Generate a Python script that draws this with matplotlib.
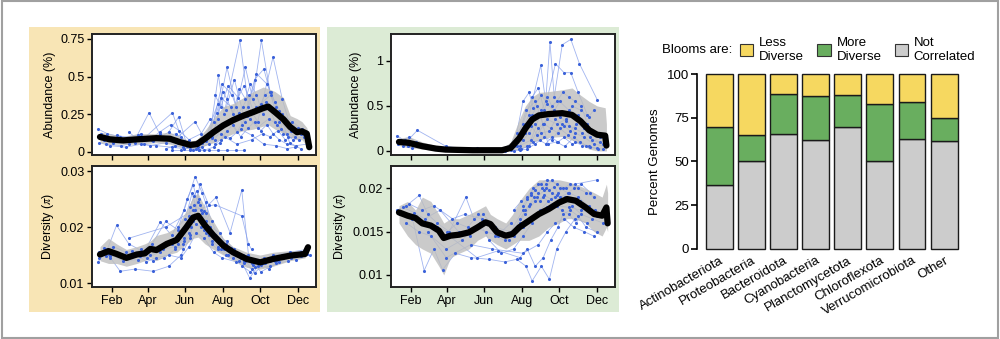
import matplotlib
matplotlib.use("Agg")
import matplotlib.pyplot as plt
from matplotlib.patches import Rectangle, Patch

plt.rcParams['font.family'] = ['Liberation Sans', 'DejaVu Sans']
plt.rcParams['font.size'] = 9
plt.rcParams['mathtext.fontset'] = 'stix'

month_ticks = [32, 91, 152, 213, 274, 335]
month_labels = ['Feb', 'Apr', 'Jun', 'Aug', 'Oct', 'Dec']

# ---- less-diverse blooms example (yellow panel) : abundance ----
ab1_traces = [
    [(10, 0.15), (25, 0.12), (45, 0.10), (70, 0.08), (93, 0.26), (110, 0.12), (140, 0.06), (170, 0.02), (200, 0.15),
     (220, 0.56), (235, 0.30), (250, 0.56), (262, 0.35), (276, 0.74), (290, 0.40), (305, 0.20), (330, 0.10)],
    [(15, 0.12), (35, 0.06), (60, 0.05), (85, 0.09), (131, 0.26), (145, 0.10), (165, 0.01), (190, 0.05), (206, 0.51),
     (215, 0.25), (241, 0.74), (255, 0.30), (270, 0.20), (295, 0.63), (310, 0.35), (325, 0.14)],
    [(20, 0.08), (40, 0.09), (75, 0.11), (100, 0.07), (125, 0.13), (141, 0.23), (155, 0.04), (175, 0.01), (198, 0.20),
     (212, 0.45), (228, 0.38), (245, 0.18), (265, 0.48), (280, 0.55), (300, 0.25), (320, 0.18), (345, 0.12)],
    [(12, 0.06), (30, 0.04), (55, 0.03), (80, 0.05), (105, 0.04), (130, 0.03), (150, 0.02), (180, 0.03), (205, 0.32),
     (218, 0.28), (232, 0.48), (250, 0.20), (268, 0.52), (285, 0.45), (298, 0.33), (315, 0.22), (335, 0.16)],
    [(130, 0.01), (145, 0.01), (160, 0.01), (175, 0.01), (190, 0.01), (205, 0.01), (220, 0.01), (235, 0.01), (247, 0.01)],
    [(18, 0.10), (50, 0.07), (90, 0.10), (115, 0.09), (135, 0.08), (168, 0.20), (185, 0.07), (200, 0.08), (215, 0.18),
     (240, 0.26), (258, 0.22), (275, 0.32), (292, 0.38), (305, 0.27), (322, 0.06), (340, 0.02)],
    [(22, 0.05), (48, 0.04), (70, 0.06), (95, 0.04), (120, 0.06), (150, 0.05), (172, 0.03), (195, 0.09), (210, 0.12),
     (225, 0.09), (242, 0.15), (260, 0.11), (280, 0.05), (300, 0.04), (318, 0.02), (330, 0.03)],
    [(200, 0.38), (210, 0.30), (222, 0.44), (238, 0.36), (248, 0.44), (262, 0.28), (273, 0.30), (282, 0.38), (292, 0.40),
     (300, 0.30), (312, 0.12), (328, 0.08), (345, 0.10)],
    [(60, 0.13), (85, 0.05), (110, 0.13), (128, 0.18), (142, 0.14), (158, 0.08), (178, 0.12), (193, 0.22), (207, 0.17),
     (224, 0.21), (236, 0.13), (252, 0.24), (270, 0.16), (288, 0.22), (302, 0.18), (318, 0.12)],
    [(195, 0.10), (205, 0.22), (213, 0.40), (220, 0.35), (230, 0.25), (240, 0.42), (250, 0.35), (258, 0.45), (268, 0.38),
     (278, 0.25), (288, 0.30), (298, 0.20), (308, 0.15), (320, 0.10), (338, 0.08)],
    [(200, 0.05), (210, 0.08), (220, 0.14), (230, 0.18), (242, 0.10), (255, 0.16), (265, 0.20), (275, 0.14), (285, 0.18),
     (295, 0.12), (305, 0.08), (318, 0.05), (332, 0.04), (350, 0.05)],
    [(25, 0.09), (40, 0.11), (62, 0.09), (80, 0.12), (98, 0.08), (118, 0.10), (137, 0.12), (150, 0.07), (162, 0.05),
     (180, 0.06), (192, 0.12), (203, 0.26), (210, 0.36), (226, 0.30), (233, 0.22), (246, 0.30), (256, 0.38), (268, 0.30),
     (283, 0.33), (296, 0.27), (310, 0.25), (326, 0.20), (342, 0.15)],
    [(120, 0.02), (135, 0.04), (148, 0.03), (160, 0.02), (183, 0.01), (198, 0.03), (208, 0.06), (216, 0.10), (236, 0.05),
     (260, 0.08), (278, 0.12), (290, 0.10), (303, 0.14), (315, 0.08), (340, 0.12)],
]
ab1_days = [13, 29, 51, 73, 105, 127, 143, 160, 171, 184, 198, 214, 230, 247, 263, 279, 287, 298, 312, 323, 334, 342, 350, 354]
ab1_mean = [0.098, 0.082, 0.075, 0.082, 0.09, 0.086, 0.064, 0.045, 0.05, 0.086, 0.13, 0.175, 0.21, 0.24, 0.264, 0.29,
            0.30, 0.264, 0.215, 0.164, 0.13, 0.135, 0.12, 0.03]
ab1_hi = [0.13, 0.12, 0.10, 0.12, 0.12, 0.13, 0.10, 0.07, 0.08, 0.14, 0.22, 0.30, 0.32, 0.36, 0.40, 0.43, 0.42, 0.40,
          0.36, 0.24, 0.22, 0.20, 0.16, 0.08]
ab1_lo = [0.06, 0.05, 0.05, 0.05, 0.06, 0.05, 0.03, 0.02, 0.02, 0.04, 0.06, 0.09, 0.12, 0.14, 0.15, 0.17, 0.18, 0.15,
          0.12, 0.10, 0.08, 0.08, 0.04, 0.01]

# ---- yellow panel : diversity ----
dv1_traces = [
    [(10, 0.0138), (25, 0.0160), (40, 0.0203), (60, 0.0170), (85, 0.0155), (111, 0.0209), (130, 0.0185), (150, 0.0230),
     (168, 0.0290), (180, 0.0260), (195, 0.0210), (215, 0.0160), (240, 0.0140), (260, 0.0125), (290, 0.0130),
     (320, 0.0140), (345, 0.0150)],
    [(15, 0.0150), (30, 0.0145), (46, 0.0121), (70, 0.0125), (100, 0.0121), (125, 0.0130), (145, 0.0150), (160, 0.0180),
     (176, 0.0277), (190, 0.0240), (202, 0.0253), (225, 0.0190), (244, 0.0266), (255, 0.0150), (275, 0.0120),
     (300, 0.0135), (330, 0.0148)],
    [(20, 0.0162), (38, 0.0155), (58, 0.0148), (80, 0.0160), (98, 0.0170), (120, 0.0210), (140, 0.0195), (155, 0.0250),
     (165, 0.0275), (172, 0.0245), (185, 0.0225), (200, 0.0180), (220, 0.0175), (238, 0.0150), (257, 0.0109),
     (270, 0.0130), (295, 0.0150), (322, 0.0155), (350, 0.0160)],
    [(12, 0.0145), (28, 0.0152), (50, 0.0140), (75, 0.0142), (95, 0.0150), (115, 0.0160), (135, 0.0165), (150, 0.0180),
     (162, 0.0200), (170, 0.0220), (182, 0.0195), (196, 0.0175), (210, 0.0160), (228, 0.0155), (250, 0.0140),
     (265, 0.0118), (285, 0.0140), (310, 0.0150), (340, 0.0155)],
    [(18, 0.0158), (35, 0.0165), (55, 0.0155), (90, 0.0145), (110, 0.0155), (130, 0.0170), (148, 0.0160), (158, 0.0220),
     (167, 0.0240), (178, 0.0230), (190, 0.0185), (205, 0.0165), (222, 0.0150), (242, 0.0145), (262, 0.0132),
     (280, 0.0145), (305, 0.0138), (335, 0.0152)],
    [(140, 0.0200), (152, 0.0215), (163, 0.0260), (175, 0.0215), (186, 0.0245), (193, 0.0200), (208, 0.0190),
     (218, 0.0170), (232, 0.0160), (248, 0.0135), (268, 0.0140), (288, 0.0125), (312, 0.0145), (332, 0.0142),
     (355, 0.0150)],
    [(22, 0.0148), (45, 0.0150), (65, 0.0158), (88, 0.0138), (105, 0.0145), (125, 0.0150), (145, 0.0145), (158, 0.0165),
     (170, 0.0190), (183, 0.0180), (198, 0.0155), (212, 0.0145), (235, 0.0138), (252, 0.0148), (278, 0.0135),
     (298, 0.0140), (325, 0.0145)],
    [(60, 0.0180), (120, 0.0200), (165, 0.0230), (200, 0.0240), (244, 0.0220), (255, 0.0170), (260, 0.0160)],
    [(150, 0.0195), (156, 0.0210), (160, 0.0235), (166, 0.0255), (171, 0.0265), (176, 0.0240), (180, 0.0225),
     (186, 0.0210), (192, 0.0195), (200, 0.0185), (210, 0.0170), (222, 0.0165), (235, 0.0150), (248, 0.0140),
     (260, 0.0135), (275, 0.0132), (290, 0.0140), (310, 0.0145), (330, 0.0150), (350, 0.0152)],
    [(140, 0.0170), (150, 0.0175), (158, 0.0190), (165, 0.0210), (170, 0.0205), (177, 0.0200), (185, 0.0190),
     (195, 0.0170), (205, 0.0160), (218, 0.0150), (230, 0.0145), (245, 0.0130), (258, 0.0120), (266, 0.0128),
     (280, 0.0138), (300, 0.0145), (320, 0.0150), (340, 0.0148)],
    [(12, 0.0155), (30, 0.0148), (52, 0.0150), (78, 0.0148), (100, 0.0140), (118, 0.0145), (135, 0.0160), (148, 0.0170),
     (160, 0.0185), (168, 0.0230), (174, 0.0250), (182, 0.0228), (190, 0.0200), (206, 0.0175), (226, 0.0162),
     (246, 0.0150), (262, 0.0142), (282, 0.0135), (302, 0.0142), (328, 0.0150)],
]
dv1_days = [13, 27, 40, 56, 73, 86, 95, 105, 122, 138, 154, 165, 173, 184, 198, 214, 230, 252, 274, 295, 323, 347, 352]
dv1_mean = [0.0151, 0.0157, 0.0152, 0.0145, 0.0151, 0.0153, 0.0161, 0.0159, 0.0170, 0.0177, 0.0200, 0.0217, 0.0220,
            0.0203, 0.0185, 0.0167, 0.0155, 0.0143, 0.0137, 0.0143, 0.0149, 0.0152, 0.0164]
dv1_hi = [0.0165, 0.0180, 0.0170, 0.0160, 0.0165, 0.0170, 0.0175, 0.0185, 0.0190, 0.0200, 0.0230, 0.0255, 0.0260,
          0.0235, 0.0210, 0.0180, 0.0165, 0.0155, 0.0150, 0.0155, 0.0158, 0.0157, 0.0168]
dv1_lo = [0.0140, 0.0135, 0.0135, 0.0130, 0.0135, 0.0140, 0.0145, 0.0140, 0.0150, 0.0155, 0.0170, 0.0180, 0.0182,
          0.0170, 0.0160, 0.0150, 0.0140, 0.0128, 0.0125, 0.0130, 0.0140, 0.0145, 0.0155]

# ---- more-diverse blooms example (green panel) : abundance ----
ab2_traces = [
    [(10, 0.17), (25, 0.10), (43, 0.23), (90, 0.05), (120, 0.02), (160, 0.01), (200, 0.05), (225, 0.40), (244, 0.95),
     (252, 0.55), (259, 1.21), (266, 0.60), (279, 1.18), (293, 1.24), (307, 0.97), (336, 0.57)],
    [(15, 0.12), (30, 0.15), (45, 0.08), (60, 0.03), (75, 0.02), (105, 0.01), (150, 0.01), (190, 0.02), (215, 0.30),
     (230, 0.60), (240, 0.70), (250, 0.45), (268, 0.97), (282, 0.87), (293, 0.87), (305, 0.65), (320, 0.40)],
    [(12, 0.08), (28, 0.06), (50, 0.04), (70, 0.02), (100, 0.01), (130, 0.01), (175, 0.01), (205, 0.10), (220, 0.45),
     (235, 0.55), (248, 0.30), (262, 0.40), (275, 0.55), (290, 0.45), (305, 0.40), (318, 0.30), (340, 0.15)],
    [(20, 0.05), (35, 0.03), (55, 0.06), (85, 0.01), (140, 0.00), (185, 0.00), (208, 0.02), (225, 0.05), (240, 0.25),
     (255, 0.35), (270, 0.30), (285, 0.35), (300, 0.20), (315, 0.15), (330, 0.08), (348, 0.05)],
    [(200, 0.00), (210, 0.01), (222, 0.02), (235, 0.08), (250, 0.15), (262, 0.12), (275, 0.25), (288, 0.18),
     (300, 0.10), (312, 0.06), (325, 0.04), (345, 0.02)],
    [(205, 0.20), (215, 0.55), (225, 0.65), (232, 0.48), (245, 0.62), (255, 0.52), (265, 0.45), (275, 0.38),
     (285, 0.33), (295, 0.50), (310, 0.45), (322, 0.38), (330, 0.45)],
    [(210, 0.05), (218, 0.20), (228, 0.28), (238, 0.18), (250, 0.30), (260, 0.25), (272, 0.20), (282, 0.28),
     (292, 0.22), (302, 0.30), (315, 0.25), (328, 0.12), (345, 0.08)],
    [(22, 0.12), (40, 0.10), (65, 0.05), (140, 0.03), (195, 0.01), (228, 0.12), (243, 0.40), (256, 0.08), (270, 0.10),
     (283, 0.05), (298, 0.15), (318, 0.05), (335, 0.03)],
    [(210, 0.15), (220, 0.30), (230, 0.40), (238, 0.50), (245, 0.45), (255, 0.60), (262, 0.50), (270, 0.55),
     (280, 0.65), (290, 0.60), (300, 0.55), (310, 0.50), (320, 0.30), (332, 0.20)],
    [(205, 0.05), (215, 0.12), (225, 0.20), (235, 0.30), (245, 0.20), (258, 0.22), (268, 0.35), (278, 0.30),
     (290, 0.28), (300, 0.25), (312, 0.20), (325, 0.15), (340, 0.10)],
    [(212, 0.02), (222, 0.05), (232, 0.10), (242, 0.12), (252, 0.08), (262, 0.15), (272, 0.10), (282, 0.15),
     (295, 0.08), (308, 0.10), (322, 0.05), (338, 0.02)],
]
ab2_days = [13, 29, 51, 73, 89, 133, 181, 195, 209, 219, 230, 241, 257, 279, 295, 309, 323, 336, 349, 351]
ab2_mean = [0.10, 0.09, 0.053, 0.026, 0.015, 0.008, 0.008, 0.034, 0.14, 0.25, 0.35, 0.395, 0.41, 0.42, 0.40, 0.33,
            0.23, 0.18, 0.17, 0.06]
ab2_hi = [0.14, 0.16, 0.10, 0.06, 0.03, 0.02, 0.03, 0.10, 0.35, 0.50, 0.60, 0.65, 0.66, 0.68, 0.70, 0.62, 0.55, 0.50,
          0.48, 0.30]
ab2_lo = [0.06, 0.04, 0.02, 0.005, 0.0, 0.0, 0.0, 0.0, 0.02, 0.05, 0.10, 0.12, 0.15, 0.16, 0.12, 0.08, 0.02, 0.0,
          0.0, 0.0]

# ---- green panel : diversity ----
dv2_traces = [
    [(10, 0.0175), (25, 0.0180), (46, 0.0192), (60, 0.0170), (75, 0.0160), (95, 0.0150), (122, 0.0190), (135, 0.0165),
     (150, 0.0170), (170, 0.0155), (195, 0.0150), (215, 0.0175), (228, 0.0195), (240, 0.0205), (255, 0.0210),
     (270, 0.0205), (285, 0.0200), (300, 0.0205), (336, 0.0210)],
    [(15, 0.0170), (35, 0.0165), (54, 0.0105), (70, 0.0130), (84, 0.0106), (105, 0.0125), (130, 0.0120), (160, 0.0118),
     (185, 0.0115), (205, 0.0118), (220, 0.0110), (230, 0.0093), (245, 0.0110), (258, 0.0095), (270, 0.0130),
     (285, 0.0150), (300, 0.0165), (320, 0.0160)],
    [(20, 0.0178), (38, 0.0172), (55, 0.0165), (80, 0.0175), (110, 0.0150), (128, 0.0145), (145, 0.0160), (160, 0.0140),
     (180, 0.0125), (200, 0.0130), (215, 0.0145), (230, 0.0160), (243, 0.0175), (256, 0.0185), (268, 0.0190),
     (282, 0.0185), (295, 0.0180), (310, 0.0170), (328, 0.0165), (345, 0.0160)],
    [(25, 0.0160), (45, 0.0150), (65, 0.0145), (90, 0.0130), (115, 0.0140), (138, 0.0155), (155, 0.0150), (175, 0.0145),
     (192, 0.0140), (210, 0.0165), (225, 0.0180), (238, 0.0190), (250, 0.0198), (262, 0.0195), (275, 0.0190),
     (290, 0.0195), (305, 0.0190), (322, 0.0180), (342, 0.0170)],
    [(200, 0.0175), (212, 0.0185), (222, 0.0190), (232, 0.0200), (245, 0.0205), (252, 0.0200), (262, 0.0210),
     (275, 0.0200), (288, 0.0195), (298, 0.0200), (310, 0.0205), (325, 0.0195)],
    [(95, 0.0145), (140, 0.0120), (175, 0.0128), (210, 0.0120), (222, 0.0130), (235, 0.0110), (248, 0.0120),
     (260, 0.0140), (272, 0.0155), (280, 0.0170), (292, 0.0175), (305, 0.0168), (318, 0.0155), (335, 0.0150)],
    [(30, 0.0182), (50, 0.0175), (70, 0.0180), (100, 0.0165), (120, 0.0170), (148, 0.0165), (165, 0.0155), (180, 0.0150),
     (195, 0.0160), (205, 0.0155), (218, 0.0170), (235, 0.0185), (248, 0.0190), (265, 0.0180), (278, 0.0175),
     (290, 0.0170), (302, 0.0160), (315, 0.0180), (332, 0.0175)],
    [(60, 0.0150), (90, 0.0120), (130, 0.0135), (165, 0.0130), (215, 0.0125), (240, 0.0135), (255, 0.0150),
     (268, 0.0160), (282, 0.0165), (298, 0.0155), (315, 0.0150), (330, 0.0145)],
    [(215, 0.0180), (222, 0.0188), (228, 0.0192), (235, 0.0198), (240, 0.0195), (246, 0.0200), (252, 0.0205),
     (258, 0.0198), (266, 0.0202), (272, 0.0195), (280, 0.0200), (292, 0.0205), (305, 0.0200), (318, 0.0195),
     (330, 0.0190)],
    [(210, 0.0160), (218, 0.0175), (226, 0.0182), (233, 0.0190), (242, 0.0185), (250, 0.0192), (260, 0.0188),
     (270, 0.0192), (283, 0.0190), (296, 0.0188), (308, 0.0185), (320, 0.0178), (336, 0.0170)],
    [(40, 0.0165), (58, 0.0160), (75, 0.0155), (92, 0.0150), (108, 0.0160), (125, 0.0155), (142, 0.0170), (158, 0.0160),
     (170, 0.0145), (185, 0.0140), (200, 0.0145), (215, 0.0155), (225, 0.0165), (238, 0.0172), (255, 0.0178),
     (270, 0.0180), (290, 0.0178), (310, 0.0175), (335, 0.0168)],
]
dv2_days = [13, 27, 40, 51, 65, 78, 86, 97, 111, 127, 141, 154, 162, 173, 187, 198, 209, 225, 241, 257, 274, 287, 301,
            317, 331, 344, 351, 353]
dv2_mean = [0.01723, 0.01685, 0.01658, 0.01596, 0.0157, 0.01512, 0.01427, 0.01454, 0.01465, 0.01492, 0.0155, 0.01608,
            0.01588, 0.01492, 0.01454, 0.01473, 0.0155, 0.01627, 0.01704, 0.01762, 0.01838, 0.01877, 0.01858, 0.01781,
            0.01704, 0.01685, 0.0178, 0.01596]
dv2_hi = [0.0180, 0.0185, 0.0175, 0.0190, 0.0185, 0.0170, 0.0160, 0.0165, 0.0165, 0.0170, 0.0175, 0.0180, 0.0170,
          0.0165, 0.0160, 0.0170, 0.0185, 0.0200, 0.0210, 0.0210, 0.0210, 0.0208, 0.0205, 0.0200, 0.0195, 0.0190,
          0.0205, 0.0195]
dv2_lo = [0.0160, 0.0145, 0.0135, 0.0130, 0.0125, 0.0110, 0.0100, 0.0120, 0.0125, 0.0130, 0.0140, 0.0145, 0.0140,
          0.0135, 0.0130, 0.0135, 0.0140, 0.0140, 0.0145, 0.0155, 0.0160, 0.0165, 0.0165, 0.0160, 0.0150, 0.0145,
          0.0155, 0.0150]

# ---- bar chart ----
phyla = ['Actinobacteriota', 'Proteobacteria', 'Bacteroidota', 'Cyanobacteria', 'Planctomycetota',
         'Chloroflexota', 'Verrucomicrobiota', 'Other']
not_corr = [36.5, 50.5, 65.5, 62.5, 69.5, 50.0, 63.0, 62.0]
more_div = [33.5, 14.5, 23.0, 25.0, 18.5, 33.0, 21.0, 13.0]
less_div = [30.0, 35.0, 11.5, 12.5, 12.0, 17.0, 16.0, 25.0]

YELLOW = '#f6d860'
GREEN = '#69ae5f'
GREY = '#cccccc'


def draw_panel(ax, traces, days, mean, lo, hi, ylim, yticks, yticklabels, ylabel, show_x):
    for tr in traces:
        d = [p[0] for p in tr]
        v = [p[1] for p in tr]
        ax.plot(d, v, color='#819beb', lw=0.6, alpha=0.75, zorder=1)
    ax.fill_between(days, lo, hi, color='#bdbdbd', alpha=0.8, lw=0, zorder=2)
    for tr in traces:
        d = [p[0] for p in tr]
        v = [p[1] for p in tr]
        ax.scatter(d, v, s=5, color='#3b62d9', lw=0, zorder=3)
    ax.plot(days, mean, color='black', lw=4.5, solid_capstyle='round', zorder=4)
    ax.set_xlim(0, 365)
    ax.set_ylim(*ylim)
    ax.set_xticks(month_ticks)
    ax.set_xticklabels(month_labels if show_x else [])
    ax.set_yticks(yticks)
    ax.set_yticklabels(yticklabels)
    ax.set_ylabel(ylabel, fontsize=9, labelpad=3)
    ax.tick_params(direction='out', length=3.5, width=1.0, pad=2, labelsize=9)
    for s in ax.spines.values():
        s.set_linewidth(1.4)
        s.set_color('#222222')
    ax.set_facecolor('white')


fig = plt.figure(figsize=(10, 3.39), dpi=100)

# panel backgrounds and frame
fig.patches.append(Rectangle((0.029, 0.0796), 0.291, 0.8407, transform=fig.transFigure,
                             facecolor='#f8e5b5', edgecolor='none', zorder=-10))
fig.patches.append(Rectangle((0.327, 0.0796), 0.292, 0.8407, transform=fig.transFigure,
                             facecolor='#dcebd5', edgecolor='none', zorder=-10))
fig.patches.append(Rectangle((0.002, 0.003), 0.996, 0.994, transform=fig.transFigure,
                             fill=False, edgecolor='#a0a0a0', lw=1.5, zorder=-10))

ax1 = fig.add_axes([0.092, 0.5428, 0.224, 0.357])
ax2 = fig.add_axes([0.092, 0.1534, 0.224, 0.357])
ax3 = fig.add_axes([0.391, 0.5428, 0.224, 0.357])
ax4 = fig.add_axes([0.391, 0.1534, 0.224, 0.357])

draw_panel(ax1, ab1_traces, ab1_days, ab1_mean, ab1_lo, ab1_hi, (-0.022, 0.783),
           [0, 0.25, 0.5, 0.75], ['0', '0.25', '0.5', '0.75'], 'Abundance (%)', False)
draw_panel(ax2, dv1_traces, dv1_days, dv1_mean, dv1_lo, dv1_hi, (0.0093, 0.0309),
           [0.01, 0.02, 0.03], ['0.01', '0.02', '0.03'], r'Diversity ($\pi$)', True)
draw_panel(ax3, ab2_traces, ab2_days, ab2_mean, ab2_lo, ab2_hi, (-0.045, 1.30),
           [0, 0.5, 1], ['0', '0.5', '1'], 'Abundance (%)', False)
draw_panel(ax4, dv2_traces, dv2_days, dv2_mean, dv2_lo, dv2_hi, (0.0086, 0.0226),
           [0.01, 0.015, 0.02], ['0.01', '0.015', '0.02'], r'Diversity ($\pi$)', True)

# stacked bars
axb = fig.add_axes([0.700, 0.2655, 0.263, 0.5162])
x = list(range(len(phyla)))
bottom2 = [a + b for a, b in zip(not_corr, more_div)]
kw = dict(width=0.84, edgecolor='#1a1a1a', linewidth=1.0, clip_on=False)
axb.bar(x, not_corr, color=GREY, **kw)
axb.bar(x, more_div, bottom=not_corr, color=GREEN, **kw)
axb.bar(x, less_div, bottom=bottom2, color=YELLOW, **kw)
axb.set_xlim(-0.61, 7.59)
axb.set_ylim(0, 100)
axb.set_yticks([0, 25, 50, 75, 100])
axb.set_xticks(x)
axb.set_xticklabels(phyla, rotation=30, ha='right', va='top', rotation_mode='anchor', fontsize=9.5)
axb.tick_params(axis='x', length=0, pad=4)
axb.tick_params(axis='y', direction='out', length=4, width=1.2, pad=2, labelsize=9.5)
for side in ['top', 'right', 'bottom']:
    axb.spines[side].set_visible(False)
axb.spines['left'].set_linewidth(1.2)
axb.spines['left'].set_position(('outward', 2))
axb.set_ylabel('Percent Genomes', fontsize=9.5, labelpad=4)
axb.set_facecolor('none')

handles = [Patch(facecolor=YELLOW, edgecolor='#333333', lw=0.8),
           Patch(facecolor=GREEN, edgecolor='#333333', lw=0.8),
           Patch(facecolor=GREY, edgecolor='#333333', lw=0.8)]
fig.legend(handles, ['Less\nDiverse', 'More\nDiverse', 'Not\nCorrelated'], ncol=3,
           loc='center left', bbox_to_anchor=(0.740, 0.853), frameon=False, fontsize=9.5,
           handlelength=1.0, handleheight=1.0, handletextpad=0.45, columnspacing=1.0,
           borderpad=0, borderaxespad=0)
fig.text(0.662, 0.853, 'Blooms are:', fontsize=9.5, va='center', ha='left')

fig.savefig('out.png', dpi=100)
